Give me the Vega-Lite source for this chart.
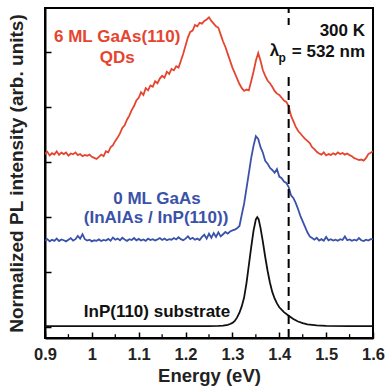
{
  "$schema": "https://vega.github.io/schema/vega-lite/v6.json",
  "width": 328,
  "height": 330,
  "autosize": {"type": "none"},
  "padding": {"left": 45, "top": 8, "right": 14, "bottom": 51},
  "background": "white",
  "config": {
    "view": {"stroke": "black", "strokeWidth": 2},
    "font": "Liberation Sans",
    "text": {"font": "Liberation Sans", "fontWeight": "bold", "fontSize": 17}
  },
  "datasets": {
    "spectra": [
      {"sample": "6 ML", "energy": 0.900, "intensity": 6.30},
      {"sample": "6 ML", "energy": 0.905, "intensity": 6.38},
      {"sample": "6 ML", "energy": 0.910, "intensity": 6.25},
      {"sample": "6 ML", "energy": 0.915, "intensity": 6.33},
      {"sample": "6 ML", "energy": 0.920, "intensity": 6.28},
      {"sample": "6 ML", "energy": 0.925, "intensity": 6.40},
      {"sample": "6 ML", "energy": 0.930, "intensity": 6.27},
      {"sample": "6 ML", "energy": 0.935, "intensity": 6.35},
      {"sample": "6 ML", "energy": 0.940, "intensity": 6.30},
      {"sample": "6 ML", "energy": 0.945, "intensity": 6.36},
      {"sample": "6 ML", "energy": 0.950, "intensity": 6.24},
      {"sample": "6 ML", "energy": 0.955, "intensity": 6.32},
      {"sample": "6 ML", "energy": 0.960, "intensity": 6.29},
      {"sample": "6 ML", "energy": 0.965, "intensity": 6.36},
      {"sample": "6 ML", "energy": 0.970, "intensity": 6.26},
      {"sample": "6 ML", "energy": 0.975, "intensity": 6.30},
      {"sample": "6 ML", "energy": 0.980, "intensity": 6.22},
      {"sample": "6 ML", "energy": 0.985, "intensity": 6.27},
      {"sample": "6 ML", "energy": 0.990, "intensity": 6.24},
      {"sample": "6 ML", "energy": 0.995, "intensity": 6.28},
      {"sample": "6 ML", "energy": 1.000, "intensity": 6.20},
      {"sample": "6 ML", "energy": 1.005, "intensity": 6.16},
      {"sample": "6 ML", "energy": 1.010, "intensity": 6.12},
      {"sample": "6 ML", "energy": 1.015, "intensity": 6.20},
      {"sample": "6 ML", "energy": 1.020, "intensity": 6.28},
      {"sample": "6 ML", "energy": 1.025, "intensity": 6.22},
      {"sample": "6 ML", "energy": 1.030, "intensity": 6.40},
      {"sample": "6 ML", "energy": 1.035, "intensity": 6.36},
      {"sample": "6 ML", "energy": 1.040, "intensity": 6.55},
      {"sample": "6 ML", "energy": 1.045, "intensity": 6.62},
      {"sample": "6 ML", "energy": 1.050, "intensity": 6.78},
      {"sample": "6 ML", "energy": 1.055, "intensity": 6.90},
      {"sample": "6 ML", "energy": 1.060, "intensity": 7.05},
      {"sample": "6 ML", "energy": 1.065, "intensity": 7.25},
      {"sample": "6 ML", "energy": 1.070, "intensity": 7.35},
      {"sample": "6 ML", "energy": 1.075, "intensity": 7.55},
      {"sample": "6 ML", "energy": 1.080, "intensity": 7.70},
      {"sample": "6 ML", "energy": 1.085, "intensity": 7.90},
      {"sample": "6 ML", "energy": 1.090, "intensity": 8.05},
      {"sample": "6 ML", "energy": 1.095, "intensity": 8.25},
      {"sample": "6 ML", "energy": 1.100, "intensity": 8.35},
      {"sample": "6 ML", "energy": 1.105, "intensity": 8.55},
      {"sample": "6 ML", "energy": 1.110, "intensity": 8.45},
      {"sample": "6 ML", "energy": 1.115, "intensity": 8.70},
      {"sample": "6 ML", "energy": 1.120, "intensity": 8.62},
      {"sample": "6 ML", "energy": 1.125, "intensity": 8.80},
      {"sample": "6 ML", "energy": 1.130, "intensity": 8.75},
      {"sample": "6 ML", "energy": 1.135, "intensity": 8.95},
      {"sample": "6 ML", "energy": 1.140, "intensity": 8.88},
      {"sample": "6 ML", "energy": 1.145, "intensity": 9.05},
      {"sample": "6 ML", "energy": 1.150, "intensity": 9.15},
      {"sample": "6 ML", "energy": 1.155, "intensity": 9.08},
      {"sample": "6 ML", "energy": 1.160, "intensity": 9.30},
      {"sample": "6 ML", "energy": 1.165, "intensity": 9.22},
      {"sample": "6 ML", "energy": 1.170, "intensity": 9.40},
      {"sample": "6 ML", "energy": 1.175, "intensity": 9.35},
      {"sample": "6 ML", "energy": 1.180, "intensity": 9.50},
      {"sample": "6 ML", "energy": 1.185, "intensity": 9.45},
      {"sample": "6 ML", "energy": 1.190, "intensity": 9.70},
      {"sample": "6 ML", "energy": 1.195, "intensity": 9.95},
      {"sample": "6 ML", "energy": 1.200, "intensity": 10.25},
      {"sample": "6 ML", "energy": 1.205, "intensity": 10.55},
      {"sample": "6 ML", "energy": 1.210, "intensity": 10.75},
      {"sample": "6 ML", "energy": 1.215, "intensity": 10.80},
      {"sample": "6 ML", "energy": 1.220, "intensity": 11.00},
      {"sample": "6 ML", "energy": 1.225, "intensity": 10.95},
      {"sample": "6 ML", "energy": 1.230, "intensity": 11.08},
      {"sample": "6 ML", "energy": 1.235, "intensity": 11.05},
      {"sample": "6 ML", "energy": 1.240, "intensity": 11.15},
      {"sample": "6 ML", "energy": 1.245, "intensity": 11.20},
      {"sample": "6 ML", "energy": 1.250, "intensity": 11.28},
      {"sample": "6 ML", "energy": 1.255, "intensity": 11.15},
      {"sample": "6 ML", "energy": 1.260, "intensity": 11.05},
      {"sample": "6 ML", "energy": 1.265, "intensity": 10.95},
      {"sample": "6 ML", "energy": 1.270, "intensity": 10.90},
      {"sample": "6 ML", "energy": 1.275, "intensity": 10.65},
      {"sample": "6 ML", "energy": 1.280, "intensity": 10.40},
      {"sample": "6 ML", "energy": 1.285, "intensity": 10.20},
      {"sample": "6 ML", "energy": 1.290, "intensity": 9.95},
      {"sample": "6 ML", "energy": 1.295, "intensity": 9.70},
      {"sample": "6 ML", "energy": 1.300, "intensity": 9.45},
      {"sample": "6 ML", "energy": 1.305, "intensity": 9.25},
      {"sample": "6 ML", "energy": 1.310, "intensity": 9.05},
      {"sample": "6 ML", "energy": 1.315, "intensity": 8.85},
      {"sample": "6 ML", "energy": 1.320, "intensity": 8.70},
      {"sample": "6 ML", "energy": 1.325, "intensity": 8.60},
      {"sample": "6 ML", "energy": 1.330, "intensity": 8.65},
      {"sample": "6 ML", "energy": 1.335, "intensity": 8.62},
      {"sample": "6 ML", "energy": 1.340, "intensity": 8.95},
      {"sample": "6 ML", "energy": 1.345, "intensity": 9.30},
      {"sample": "6 ML", "energy": 1.350, "intensity": 9.70},
      {"sample": "6 ML", "energy": 1.355, "intensity": 9.98},
      {"sample": "6 ML", "energy": 1.360, "intensity": 9.70},
      {"sample": "6 ML", "energy": 1.365, "intensity": 9.35},
      {"sample": "6 ML", "energy": 1.370, "intensity": 9.15},
      {"sample": "6 ML", "energy": 1.375, "intensity": 8.98},
      {"sample": "6 ML", "energy": 1.380, "intensity": 8.88},
      {"sample": "6 ML", "energy": 1.385, "intensity": 8.75},
      {"sample": "6 ML", "energy": 1.390, "intensity": 8.60},
      {"sample": "6 ML", "energy": 1.395, "intensity": 8.50},
      {"sample": "6 ML", "energy": 1.400, "intensity": 8.45},
      {"sample": "6 ML", "energy": 1.405, "intensity": 8.35},
      {"sample": "6 ML", "energy": 1.410, "intensity": 8.25},
      {"sample": "6 ML", "energy": 1.415, "intensity": 8.20},
      {"sample": "6 ML", "energy": 1.420, "intensity": 8.05},
      {"sample": "6 ML", "energy": 1.425, "intensity": 7.70},
      {"sample": "6 ML", "energy": 1.430, "intensity": 7.50},
      {"sample": "6 ML", "energy": 1.435, "intensity": 7.30},
      {"sample": "6 ML", "energy": 1.440, "intensity": 7.15},
      {"sample": "6 ML", "energy": 1.445, "intensity": 7.05},
      {"sample": "6 ML", "energy": 1.450, "intensity": 6.95},
      {"sample": "6 ML", "energy": 1.455, "intensity": 6.85},
      {"sample": "6 ML", "energy": 1.460, "intensity": 6.78},
      {"sample": "6 ML", "energy": 1.465, "intensity": 6.70},
      {"sample": "6 ML", "energy": 1.470, "intensity": 6.55},
      {"sample": "6 ML", "energy": 1.475, "intensity": 6.48},
      {"sample": "6 ML", "energy": 1.480, "intensity": 6.38},
      {"sample": "6 ML", "energy": 1.485, "intensity": 6.32},
      {"sample": "6 ML", "energy": 1.490, "intensity": 6.28},
      {"sample": "6 ML", "energy": 1.495, "intensity": 6.36},
      {"sample": "6 ML", "energy": 1.500, "intensity": 6.25},
      {"sample": "6 ML", "energy": 1.505, "intensity": 6.30},
      {"sample": "6 ML", "energy": 1.510, "intensity": 6.27},
      {"sample": "6 ML", "energy": 1.515, "intensity": 6.33},
      {"sample": "6 ML", "energy": 1.520, "intensity": 6.28},
      {"sample": "6 ML", "energy": 1.525, "intensity": 6.36},
      {"sample": "6 ML", "energy": 1.530, "intensity": 6.30},
      {"sample": "6 ML", "energy": 1.535, "intensity": 6.34},
      {"sample": "6 ML", "energy": 1.540, "intensity": 6.28},
      {"sample": "6 ML", "energy": 1.545, "intensity": 6.32},
      {"sample": "6 ML", "energy": 1.550, "intensity": 6.26},
      {"sample": "6 ML", "energy": 1.555, "intensity": 6.22},
      {"sample": "6 ML", "energy": 1.560, "intensity": 6.15},
      {"sample": "6 ML", "energy": 1.565, "intensity": 6.12},
      {"sample": "6 ML", "energy": 1.570, "intensity": 6.08},
      {"sample": "6 ML", "energy": 1.575, "intensity": 6.10},
      {"sample": "6 ML", "energy": 1.580, "intensity": 6.06},
      {"sample": "6 ML", "energy": 1.585, "intensity": 6.15},
      {"sample": "6 ML", "energy": 1.590, "intensity": 6.30},
      {"sample": "6 ML", "energy": 1.595, "intensity": 6.35},
      {"sample": "6 ML", "energy": 1.600, "intensity": 6.40},

      {"sample": "0 ML", "energy": 0.900, "intensity": 3.15},
      {"sample": "0 ML", "energy": 0.905, "intensity": 3.20},
      {"sample": "0 ML", "energy": 0.910, "intensity": 3.12},
      {"sample": "0 ML", "energy": 0.915, "intensity": 3.18},
      {"sample": "0 ML", "energy": 0.920, "intensity": 3.14},
      {"sample": "0 ML", "energy": 0.925, "intensity": 3.22},
      {"sample": "0 ML", "energy": 0.930, "intensity": 3.13},
      {"sample": "0 ML", "energy": 0.935, "intensity": 3.19},
      {"sample": "0 ML", "energy": 0.940, "intensity": 3.16},
      {"sample": "0 ML", "energy": 0.945, "intensity": 3.12},
      {"sample": "0 ML", "energy": 0.950, "intensity": 3.18},
      {"sample": "0 ML", "energy": 0.955, "intensity": 3.24},
      {"sample": "0 ML", "energy": 0.960, "intensity": 3.15},
      {"sample": "0 ML", "energy": 0.965, "intensity": 3.20},
      {"sample": "0 ML", "energy": 0.970, "intensity": 3.32},
      {"sample": "0 ML", "energy": 0.975, "intensity": 3.22},
      {"sample": "0 ML", "energy": 0.980, "intensity": 3.38},
      {"sample": "0 ML", "energy": 0.985, "intensity": 3.20},
      {"sample": "0 ML", "energy": 0.990, "intensity": 3.15},
      {"sample": "0 ML", "energy": 0.995, "intensity": 3.18},
      {"sample": "0 ML", "energy": 1.000, "intensity": 3.12},
      {"sample": "0 ML", "energy": 1.005, "intensity": 3.16},
      {"sample": "0 ML", "energy": 1.010, "intensity": 3.14},
      {"sample": "0 ML", "energy": 1.015, "intensity": 3.19},
      {"sample": "0 ML", "energy": 1.020, "intensity": 3.13},
      {"sample": "0 ML", "energy": 1.025, "intensity": 3.17},
      {"sample": "0 ML", "energy": 1.030, "intensity": 3.15},
      {"sample": "0 ML", "energy": 1.035, "intensity": 3.21},
      {"sample": "0 ML", "energy": 1.040, "intensity": 3.14},
      {"sample": "0 ML", "energy": 1.045, "intensity": 3.26},
      {"sample": "0 ML", "energy": 1.050, "intensity": 3.18},
      {"sample": "0 ML", "energy": 1.055, "intensity": 3.22},
      {"sample": "0 ML", "energy": 1.060, "intensity": 3.16},
      {"sample": "0 ML", "energy": 1.065, "intensity": 3.25},
      {"sample": "0 ML", "energy": 1.070, "intensity": 3.19},
      {"sample": "0 ML", "energy": 1.075, "intensity": 3.14},
      {"sample": "0 ML", "energy": 1.080, "intensity": 3.20},
      {"sample": "0 ML", "energy": 1.085, "intensity": 3.17},
      {"sample": "0 ML", "energy": 1.090, "intensity": 3.24},
      {"sample": "0 ML", "energy": 1.095, "intensity": 3.16},
      {"sample": "0 ML", "energy": 1.100, "intensity": 3.21},
      {"sample": "0 ML", "energy": 1.105, "intensity": 3.15},
      {"sample": "0 ML", "energy": 1.110, "intensity": 3.19},
      {"sample": "0 ML", "energy": 1.115, "intensity": 3.14},
      {"sample": "0 ML", "energy": 1.120, "intensity": 3.22},
      {"sample": "0 ML", "energy": 1.125, "intensity": 3.17},
      {"sample": "0 ML", "energy": 1.130, "intensity": 3.20},
      {"sample": "0 ML", "energy": 1.135, "intensity": 3.15},
      {"sample": "0 ML", "energy": 1.140, "intensity": 3.19},
      {"sample": "0 ML", "energy": 1.145, "intensity": 3.24},
      {"sample": "0 ML", "energy": 1.150, "intensity": 3.17},
      {"sample": "0 ML", "energy": 1.155, "intensity": 3.22},
      {"sample": "0 ML", "energy": 1.160, "intensity": 3.16},
      {"sample": "0 ML", "energy": 1.165, "intensity": 3.20},
      {"sample": "0 ML", "energy": 1.170, "intensity": 3.18},
      {"sample": "0 ML", "energy": 1.175, "intensity": 3.24},
      {"sample": "0 ML", "energy": 1.180, "intensity": 3.19},
      {"sample": "0 ML", "energy": 1.185, "intensity": 3.27},
      {"sample": "0 ML", "energy": 1.190, "intensity": 3.20},
      {"sample": "0 ML", "energy": 1.195, "intensity": 3.16},
      {"sample": "0 ML", "energy": 1.200, "intensity": 3.22},
      {"sample": "0 ML", "energy": 1.205, "intensity": 3.30},
      {"sample": "0 ML", "energy": 1.210, "intensity": 3.20},
      {"sample": "0 ML", "energy": 1.215, "intensity": 3.25},
      {"sample": "0 ML", "energy": 1.220, "intensity": 3.18},
      {"sample": "0 ML", "energy": 1.225, "intensity": 3.22},
      {"sample": "0 ML", "energy": 1.230, "intensity": 3.17},
      {"sample": "0 ML", "energy": 1.235, "intensity": 3.28},
      {"sample": "0 ML", "energy": 1.240, "intensity": 3.36},
      {"sample": "0 ML", "energy": 1.245, "intensity": 3.22},
      {"sample": "0 ML", "energy": 1.250, "intensity": 3.40},
      {"sample": "0 ML", "energy": 1.255, "intensity": 3.25},
      {"sample": "0 ML", "energy": 1.260, "intensity": 3.42},
      {"sample": "0 ML", "energy": 1.265, "intensity": 3.28},
      {"sample": "0 ML", "energy": 1.270, "intensity": 3.45},
      {"sample": "0 ML", "energy": 1.275, "intensity": 3.30},
      {"sample": "0 ML", "energy": 1.280, "intensity": 3.38},
      {"sample": "0 ML", "energy": 1.285, "intensity": 3.46},
      {"sample": "0 ML", "energy": 1.290, "intensity": 3.40},
      {"sample": "0 ML", "energy": 1.295, "intensity": 3.48},
      {"sample": "0 ML", "energy": 1.300, "intensity": 3.52},
      {"sample": "0 ML", "energy": 1.305, "intensity": 3.55},
      {"sample": "0 ML", "energy": 1.310, "intensity": 3.60},
      {"sample": "0 ML", "energy": 1.315, "intensity": 3.68},
      {"sample": "0 ML", "energy": 1.320, "intensity": 4.10},
      {"sample": "0 ML", "energy": 1.325, "intensity": 4.50},
      {"sample": "0 ML", "energy": 1.330, "intensity": 5.05},
      {"sample": "0 ML", "energy": 1.335, "intensity": 5.60},
      {"sample": "0 ML", "energy": 1.340, "intensity": 6.15},
      {"sample": "0 ML", "energy": 1.345, "intensity": 6.60},
      {"sample": "0 ML", "energy": 1.350, "intensity": 6.95},
      {"sample": "0 ML", "energy": 1.355, "intensity": 6.85},
      {"sample": "0 ML", "energy": 1.360, "intensity": 6.55},
      {"sample": "0 ML", "energy": 1.365, "intensity": 6.35},
      {"sample": "0 ML", "energy": 1.370, "intensity": 6.05},
      {"sample": "0 ML", "energy": 1.375, "intensity": 5.95},
      {"sample": "0 ML", "energy": 1.380, "intensity": 5.80},
      {"sample": "0 ML", "energy": 1.385, "intensity": 5.72},
      {"sample": "0 ML", "energy": 1.390, "intensity": 5.62},
      {"sample": "0 ML", "energy": 1.395, "intensity": 5.75},
      {"sample": "0 ML", "energy": 1.400, "intensity": 5.48},
      {"sample": "0 ML", "energy": 1.405, "intensity": 5.42},
      {"sample": "0 ML", "energy": 1.410, "intensity": 5.30},
      {"sample": "0 ML", "energy": 1.415, "intensity": 5.25},
      {"sample": "0 ML", "energy": 1.420, "intensity": 5.10},
      {"sample": "0 ML", "energy": 1.425, "intensity": 4.80},
      {"sample": "0 ML", "energy": 1.430, "intensity": 4.70},
      {"sample": "0 ML", "energy": 1.435, "intensity": 4.52},
      {"sample": "0 ML", "energy": 1.440, "intensity": 4.30},
      {"sample": "0 ML", "energy": 1.445, "intensity": 4.05},
      {"sample": "0 ML", "energy": 1.450, "intensity": 3.85},
      {"sample": "0 ML", "energy": 1.455, "intensity": 3.65},
      {"sample": "0 ML", "energy": 1.460, "intensity": 3.45},
      {"sample": "0 ML", "energy": 1.465, "intensity": 3.30},
      {"sample": "0 ML", "energy": 1.470, "intensity": 3.24},
      {"sample": "0 ML", "energy": 1.475, "intensity": 3.18},
      {"sample": "0 ML", "energy": 1.480, "intensity": 3.25},
      {"sample": "0 ML", "energy": 1.485, "intensity": 3.15},
      {"sample": "0 ML", "energy": 1.490, "intensity": 3.20},
      {"sample": "0 ML", "energy": 1.495, "intensity": 3.14},
      {"sample": "0 ML", "energy": 1.500, "intensity": 3.28},
      {"sample": "0 ML", "energy": 1.505, "intensity": 3.16},
      {"sample": "0 ML", "energy": 1.510, "intensity": 3.20},
      {"sample": "0 ML", "energy": 1.515, "intensity": 3.15},
      {"sample": "0 ML", "energy": 1.520, "intensity": 3.18},
      {"sample": "0 ML", "energy": 1.525, "intensity": 3.14},
      {"sample": "0 ML", "energy": 1.530, "intensity": 3.20},
      {"sample": "0 ML", "energy": 1.535, "intensity": 3.17},
      {"sample": "0 ML", "energy": 1.540, "intensity": 3.30},
      {"sample": "0 ML", "energy": 1.545, "intensity": 3.16},
      {"sample": "0 ML", "energy": 1.550, "intensity": 3.19},
      {"sample": "0 ML", "energy": 1.555, "intensity": 3.14},
      {"sample": "0 ML", "energy": 1.560, "intensity": 3.18},
      {"sample": "0 ML", "energy": 1.565, "intensity": 3.15},
      {"sample": "0 ML", "energy": 1.570, "intensity": 3.24},
      {"sample": "0 ML", "energy": 1.575, "intensity": 3.16},
      {"sample": "0 ML", "energy": 1.580, "intensity": 3.13},
      {"sample": "0 ML", "energy": 1.585, "intensity": 3.18},
      {"sample": "0 ML", "energy": 1.590, "intensity": 3.15},
      {"sample": "0 ML", "energy": 1.595, "intensity": 3.20},
      {"sample": "0 ML", "energy": 1.600, "intensity": 3.20},

      {"sample": "InP", "energy": 0.900, "intensity": 0.03},
      {"sample": "InP", "energy": 1.000, "intensity": 0.03},
      {"sample": "InP", "energy": 1.100, "intensity": 0.03},
      {"sample": "InP", "energy": 1.200, "intensity": 0.03},
      {"sample": "InP", "energy": 1.250, "intensity": 0.03},
      {"sample": "InP", "energy": 1.270, "intensity": 0.04},
      {"sample": "InP", "energy": 1.280, "intensity": 0.05},
      {"sample": "InP", "energy": 1.290, "intensity": 0.08},
      {"sample": "InP", "energy": 1.295, "intensity": 0.11},
      {"sample": "InP", "energy": 1.300, "intensity": 0.15},
      {"sample": "InP", "energy": 1.305, "intensity": 0.22},
      {"sample": "InP", "energy": 1.310, "intensity": 0.35},
      {"sample": "InP", "energy": 1.315, "intensity": 0.52},
      {"sample": "InP", "energy": 1.320, "intensity": 0.76},
      {"sample": "InP", "energy": 1.325, "intensity": 1.08},
      {"sample": "InP", "energy": 1.330, "intensity": 1.60},
      {"sample": "InP", "energy": 1.335, "intensity": 2.25},
      {"sample": "InP", "energy": 1.340, "intensity": 2.90},
      {"sample": "InP", "energy": 1.345, "intensity": 3.50},
      {"sample": "InP", "energy": 1.350, "intensity": 3.92},
      {"sample": "InP", "energy": 1.353, "intensity": 4.00},
      {"sample": "InP", "energy": 1.356, "intensity": 3.92},
      {"sample": "InP", "energy": 1.360, "intensity": 3.60},
      {"sample": "InP", "energy": 1.365, "intensity": 3.10},
      {"sample": "InP", "energy": 1.370, "intensity": 2.55},
      {"sample": "InP", "energy": 1.375, "intensity": 2.05},
      {"sample": "InP", "energy": 1.380, "intensity": 1.62},
      {"sample": "InP", "energy": 1.385, "intensity": 1.28},
      {"sample": "InP", "energy": 1.390, "intensity": 1.04},
      {"sample": "InP", "energy": 1.395, "intensity": 0.86},
      {"sample": "InP", "energy": 1.400, "intensity": 0.72},
      {"sample": "InP", "energy": 1.410, "intensity": 0.54},
      {"sample": "InP", "energy": 1.420, "intensity": 0.41},
      {"sample": "InP", "energy": 1.430, "intensity": 0.29},
      {"sample": "InP", "energy": 1.440, "intensity": 0.20},
      {"sample": "InP", "energy": 1.450, "intensity": 0.14},
      {"sample": "InP", "energy": 1.460, "intensity": 0.10},
      {"sample": "InP", "energy": 1.470, "intensity": 0.08},
      {"sample": "InP", "energy": 1.480, "intensity": 0.06},
      {"sample": "InP", "energy": 1.500, "intensity": 0.04},
      {"sample": "InP", "energy": 1.550, "intensity": 0.03},
      {"sample": "InP", "energy": 1.600, "intensity": 0.03}
    ],
    "minorTicks": [
      {"energy": 0.95}, {"energy": 1.05}, {"energy": 1.15}, {"energy": 1.25},
      {"energy": 1.35}, {"energy": 1.45}, {"energy": 1.55}
    ],
    "one": [{}]
  },
  "layer": [
    {
      "data": {"name": "spectra"},
      "mark": {"type": "line", "strokeWidth": 1.8, "clip": true},
      "encoding": {
        "x": {
          "field": "energy", "type": "quantitative",
          "scale": {"domain": [0.9, 1.6], "nice": false, "zero": false},
          "axis": {
            "title": "Energy (eV)",
            "values": [0.9, 1.0, 1.1, 1.2, 1.3, 1.4, 1.5, 1.6],
            "format": ".1~f",
            "labelFlush": false,
            "labelOverlap": false,
            "grid": false,
            "domainColor": "black", "domainWidth": 2,
            "tickColor": "black", "tickWidth": 1.5, "tickSize": -6,
            "labelPadding": 14,
            "labelFont": "Liberation Sans", "labelFontWeight": "bold", "labelFontSize": 16.5, "labelColor": "#222",
            "titleFont": "Liberation Sans", "titleFontWeight": "bold", "titleFontSize": 18.5, "titleColor": "#222",
            "titlePadding": 4
          }
        },
        "y": {
          "field": "intensity", "type": "quantitative",
          "scale": {"domain": [-0.4, 11.62], "nice": false, "zero": false},
          "axis": {
            "title": "Normalized PL intensity (arb. units)",
            "values": [0, 1, 2, 3, 4, 5, 6, 7, 8, 9, 10, 11],
            "labels": false,
            "grid": false,
            "domainColor": "black", "domainWidth": 2,
            "tickColor": "black", "tickWidth": 1.5, "tickSize": -6,
            "titleFont": "Liberation Sans", "titleFontWeight": "bold", "titleFontSize": 19, "titleColor": "#222",
            "titlePadding": 18
          }
        },
        "color": {
          "field": "sample", "type": "nominal",
          "scale": {"domain": ["6 ML", "0 ML", "InP"], "range": ["#e5452f", "#3a52a8", "#111111"]},
          "legend": null
        },
        "detail": {"field": "sample"}
      }
    },
    {
      "data": {"name": "minorTicks"},
      "mark": {"type": "rule", "color": "black", "strokeWidth": 1.3},
      "encoding": {
        "x": {"field": "energy", "type": "quantitative"},
        "y": {"datum": -0.4},
        "y2": {"datum": -0.26}
      }
    },
    {
      "data": {"name": "one"},
      "mark": {"type": "rule", "color": "black", "strokeWidth": 2, "strokeDash": [9, 5]},
      "encoding": {
        "x": {"datum": 1.42},
        "y": {"datum": -0.4},
        "y2": {"datum": 9.2}
      }
    },
    {
      "data": {"name": "one"},
      "mark": {"type": "rule", "color": "black", "strokeWidth": 2, "strokeDash": [7, 5]},
      "encoding": {
        "x": {"datum": 1.42},
        "y": {"datum": 11.0},
        "y2": {"datum": 11.62}
      }
    },
    {
      "data": {"name": "one"},
      "mark": {"type": "text", "color": "#e5452f", "align": "center", "baseline": "middle"},
      "encoding": {"x": {"datum": 1.054}, "y": {"datum": 10.56}, "text": {"value": "6 ML GaAs(110)"}}
    },
    {
      "data": {"name": "one"},
      "mark": {"type": "text", "color": "#e5452f", "align": "center", "baseline": "middle"},
      "encoding": {"x": {"datum": 1.054}, "y": {"datum": 9.8}, "text": {"value": "QDs"}}
    },
    {
      "data": {"name": "one"},
      "mark": {"type": "text", "color": "#3a52a8", "align": "center", "baseline": "middle"},
      "encoding": {"x": {"datum": 1.139}, "y": {"datum": 4.66}, "text": {"value": "0 ML GaAs"}}
    },
    {
      "data": {"name": "one"},
      "mark": {"type": "text", "color": "#3a52a8", "align": "center", "baseline": "middle"},
      "encoding": {"x": {"datum": 1.137}, "y": {"datum": 3.97}, "text": {"value": "(InAlAs / InP(110))"}}
    },
    {
      "data": {"name": "one"},
      "mark": {"type": "text", "color": "#111111", "align": "center", "baseline": "middle"},
      "encoding": {"x": {"datum": 1.139}, "y": {"datum": 0.55}, "text": {"value": "InP(110) substrate"}}
    },
    {
      "data": {"name": "one"},
      "mark": {"type": "text", "color": "#111111", "align": "right", "baseline": "middle"},
      "encoding": {"x": {"datum": 1.583}, "y": {"datum": 10.78}, "text": {"value": "300 K"}}
    },
    {
      "data": {"name": "one"},
      "mark": {"type": "text", "color": "#111111", "align": "right", "baseline": "middle"},
      "encoding": {"x": {"datum": 1.583}, "y": {"datum": 10.02}, "text": {"value": "= 532 nm"}}
    },
    {
      "data": {"name": "one"},
      "mark": {"type": "text", "color": "#111111", "align": "right", "baseline": "middle", "fontSize": 12},
      "encoding": {"x": {"datum": 1.414}, "y": {"datum": 9.8}, "text": {"value": "p"}}
    },
    {
      "data": {"name": "one"},
      "mark": {"type": "text", "color": "#111111", "align": "right", "baseline": "middle"},
      "encoding": {"x": {"datum": 1.4}, "y": {"datum": 10.05}, "text": {"value": "λ"}}
    }
  ]
}
